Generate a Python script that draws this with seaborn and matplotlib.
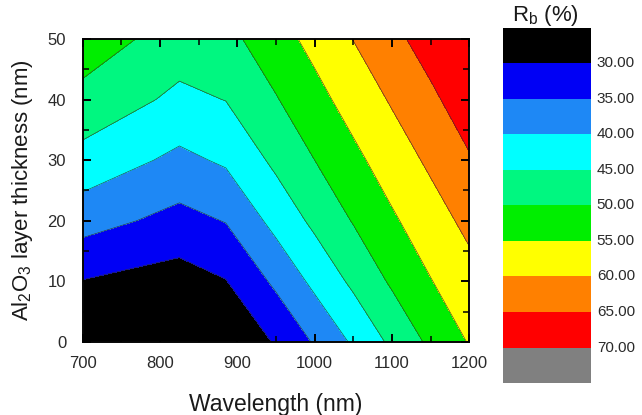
import numpy as np
import matplotlib
matplotlib.use("Agg")
import matplotlib.pyplot as plt
import seaborn as sns
from matplotlib.colors import ListedColormap, BoundaryNorm
from matplotlib.cm import ScalarMappable
from matplotlib.ticker import MultipleLocator

# values
wavelength = [700, 825, 885, 950, 1000, 1050, 1100, 1150, 1200]
thickness = [0, 10, 20, 30, 40, 50]
rb_t0 = [23.0, 22.0, 26.0, 30.4, 35.5, 40.7, 46.0, 51.0, 55.3]
rb_t10 = [29.8, 27.8, 29.8, 36.0, 41.2, 46.0, 50.7, 54.8, 58.2]
rb_t20 = [37.0, 33.4, 35.2, 41.6, 46.1, 50.3, 54.3, 57.8, 61.3]
rb_t30 = [43.3, 38.8, 40.7, 46.1, 50.0, 53.8, 57.4, 60.9, 64.6]
rb_t40 = [48.4, 43.9, 45.1, 49.7, 53.4, 57.0, 60.5, 64.1, 67.5]
rb_t50 = [53.0, 47.5, 48.5, 53.0, 56.5, 60.1, 63.8, 67.0, 69.5]

levels = [30, 35, 40, 45, 50, 55, 60, 65, 70]
band_colors = ["#000000", "#0000f5", "#1e88f5", "#00ffff", "#00f780",
               "#00ee00", "#ffff00", "#ff8000", "#ff0000", "#808080"]

sns.set_theme(style="ticks")
plt.rcParams["font.family"] = ["Liberation Sans", "DejaVu Sans"]
plt.rcParams["mathtext.default"] = "regular"

rb = np.array([rb_t0, rb_t10, rb_t20, rb_t30, rb_t40, rb_t50])
X, Y = np.meshgrid(wavelength, thickness)

fig = plt.figure(figsize=(6.42, 4.15), dpi=100)
rect = [0.129, 0.176, 0.602, 0.730]
ax = fig.add_axes(rect)

all_levels = [0] + levels + [100]
ax.contourf(X, Y, rb, levels=all_levels, colors=band_colors, zorder=0)
ax.contour(X, Y, rb, levels=levels, colors="#303030", linewidths=0.4,
           zorder=0.2)
ax.set_xlim(700, 1200)
ax.set_ylim(0, 50)
ax.xaxis.set_major_locator(MultipleLocator(100))
ax.yaxis.set_major_locator(MultipleLocator(10))
ax.tick_params(which="both", length=0, labelcolor="#2a2a2a", labelsize=12)
ax.tick_params(axis="x", pad=10)
ax.tick_params(axis="y", pad=12)

ax.set_xlabel("Wavelength (nm)", fontsize=16.5, color="#1a1a1a", labelpad=16)
ax.set_ylabel("Al$_2$O$_3$ layer thickness (nm)", fontsize=16,
              color="#1a1a1a", labelpad=9)

# colour bar, low values on top
cax = fig.add_axes([0.783, 0.077, 0.138, 0.856])
bounds = [25] + levels + [75]
norm = BoundaryNorm(bounds, len(band_colors))
sm = ScalarMappable(norm=norm, cmap=ListedColormap(band_colors))
cb = fig.colorbar(sm, cax=cax, ticks=levels, spacing="uniform")
cax.invert_yaxis()
cax.minorticks_off()
cb.outline.set_visible(False)
cax.tick_params(length=0, labelsize=11, labelcolor="#2a2a2a", pad=4)
cax.set_yticklabels([f"{v:.2f}" for v in levels], va="center")
fig.text(0.849, 0.962, "R$_b$ (%)", fontsize=16, ha="center", va="center",
         color="#1a1a1a")

# transparent overlay carrying the inward ticks on all four sides
tax = fig.add_axes(rect, facecolor="none", zorder=5)
tax.set_xlim(700, 1200)
tax.set_ylim(0, 50)
tax.xaxis.set_major_locator(MultipleLocator(100))
tax.xaxis.set_minor_locator(MultipleLocator(50))
tax.yaxis.set_major_locator(MultipleLocator(10))
tax.yaxis.set_minor_locator(MultipleLocator(5))
tax.tick_params(which="both", direction="in", top=True, right=True,
                bottom=True, left=True, color="black",
                labelbottom=False, labelleft=False)
tax.tick_params(which="major", length=6, width=1.4)
tax.tick_params(which="minor", length=4, width=1.1)
for s in tax.spines.values():
    s.set_visible(True)
    s.set_linewidth(1.2)
    s.set_color("black")

fig.savefig("out.png", dpi=100)
